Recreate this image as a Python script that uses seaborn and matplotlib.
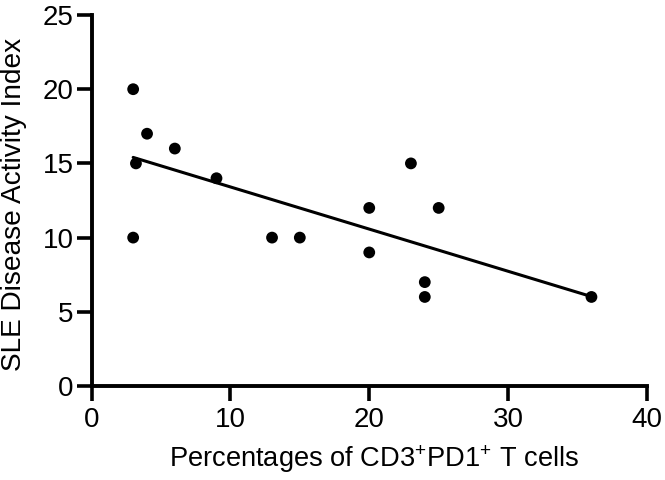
import matplotlib
matplotlib.use("Agg")
import matplotlib.pyplot as plt
import seaborn as sns
import pandas as pd

# values
pd1_pct = [3, 3, 3.2, 4, 6, 9, 13, 15, 20, 20, 23, 24, 24, 25, 36]
sledai = [20, 10, 15, 17, 16, 14, 10, 10, 12, 9, 15, 7, 6, 12, 6]
x_ticks = [0, 10, 20, 30, 40]
y_ticks = [0, 5, 10, 15, 20, 25]

df = pd.DataFrame({"pct": pd1_pct, "sledai": sledai})

sns.set_style("ticks")
plt.rcParams['font.family'] = ['Liberation Sans', 'DejaVu Sans']
plt.rcParams['mathtext.fontset'] = 'custom'
plt.rcParams['mathtext.rm'] = 'Liberation Sans'
for k in ['axes.edgecolor', 'xtick.color', 'ytick.color', 'text.color', 'axes.labelcolor']:
    plt.rcParams[k] = 'black'

fig = plt.figure(figsize=(6.65, 4.8), dpi=100)
# axes box in pixels: x 91.5..647, y 15..386
ax = fig.add_axes([91.5 / 665, 1 - 386 / 480, 555.5 / 665, 371 / 480])

sns.regplot(data=df, x="pct", y="sledai", ci=None, ax=ax,
            scatter_kws={"s": 72, "color": "black", "edgecolor": "none", "alpha": 1, "zorder": 3},
            line_kws={"color": "black", "linewidth": 2.2})

ax.set_xlim(0, 40)
ax.set_ylim(0, 25)
ax.set_xticks(x_ticks)
ax.set_yticks(y_ticks)
sns.despine(ax=ax)
for s in ["left", "bottom"]:
    ax.spines[s].set_linewidth(2.8)
    ax.spines[s].set_capstyle("projecting")
ax.tick_params(width=2.6, length=11, labelsize=20)
ax.tick_params(axis="x", pad=4)
ax.tick_params(axis="y", pad=2)

ax.set_xlabel(r"Percentages of CD3$^{\mathregular{+}}$PD1$^{\mathregular{+}}$ T cells", fontsize=19.6,
              va="baseline")
ax.xaxis.set_label_coords(0.508, -0.218)
ax.set_ylabel("SLE Disease Activity Index", fontsize=20.2)
ax.yaxis.set_label_coords(-0.1154, 0.4906)

fig.savefig("out.png", dpi=100)
